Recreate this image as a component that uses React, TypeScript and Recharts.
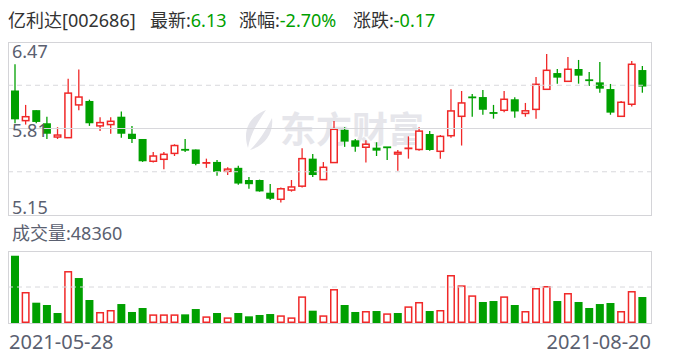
import React from "react"
import { Bar, ComposedChart, ReferenceLine, XAxis, YAxis } from "recharts"

// trading days shown in the window (first and last are labelled)
const dates = [
  "2021-05-28", "2021-05-31", "2021-06-01", "2021-06-02", "2021-06-03", "2021-06-04",
  "2021-06-07", "2021-06-08", "2021-06-09", "2021-06-10", "2021-06-11", "2021-06-15",
  "2021-06-16", "2021-06-17", "2021-06-18", "2021-06-21", "2021-06-22", "2021-06-23",
  "2021-06-24", "2021-06-25", "2021-06-28", "2021-06-29", "2021-06-30",
  "2021-07-01", "2021-07-02", "2021-07-05", "2021-07-06", "2021-07-07", "2021-07-08",
  "2021-07-09", "2021-07-12", "2021-07-13", "2021-07-14", "2021-07-15", "2021-07-16",
  "2021-07-19", "2021-07-20", "2021-07-21", "2021-07-22", "2021-07-23",
  "2021-07-26", "2021-07-27", "2021-07-28", "2021-07-29", "2021-07-30",
  "2021-08-02", "2021-08-03", "2021-08-04", "2021-08-05", "2021-08-06",
  "2021-08-09", "2021-08-10", "2021-08-11", "2021-08-12", "2021-08-13",
  "2021-08-16", "2021-08-17", "2021-08-18", "2021-08-19", "2021-08-20",
]

const opens = [
  6.10, 5.87, 5.95, 5.85, 5.745, 5.74, 5.99, 6.02, 5.83, 5.84,
  5.90, 5.77, 5.73, 5.56, 5.575, 5.62, 5.65, 5.65, 5.545, 5.555,
  5.483, 5.51, 5.417, 5.417, 5.32, 5.27, 5.34, 5.37, 5.58, 5.42,
  5.55, 5.80, 5.72, 5.667, 5.664, 5.668, 5.615, 5.657, 5.65, 5.768,
  5.636, 5.755, 5.903, 6.05, 6.05, 5.93, 5.949, 6.033, 5.925, 5.956,
  6.109, 6.233, 6.17, 6.264, 6.18, 6.162, 6.111, 5.903, 5.995, 6.256,
]
const closes = [
  5.88, 5.90, 5.86, 5.77, 5.76, 6.08, 6.05, 5.85, 5.855, 5.865,
  5.77, 5.73, 5.56, 5.60, 5.613, 5.68, 5.645, 5.54, 5.55, 5.48,
  5.50, 5.39, 5.385, 5.33, 5.274, 5.35, 5.364, 5.58, 5.455, 5.514,
  5.804, 5.71, 5.671, 5.69, 5.641, 5.665, 5.628, 5.66, 5.79, 5.646,
  5.75, 5.944, 6.005, 6.045, 5.953, 5.927, 6.033, 5.94, 5.945, 6.147,
  6.254, 6.198, 6.262, 6.213, 6.177, 6.114, 5.931, 6.01, 6.30, 6.13,
]
const highs = [
  6.30, 5.99, 5.95, 5.90, 5.82, 6.19, 6.26, 6.03, 5.895, 5.895,
  5.94, 5.83, 5.73, 5.63, 5.63, 5.69, 5.73, 5.65, 5.58, 5.57,
  5.515, 5.525, 5.44, 5.42, 5.386, 5.36, 5.417, 5.66, 5.615, 5.554,
  5.867, 5.82, 5.73, 5.72, 5.705, 5.668, 5.646, 5.75, 5.82, 5.79,
  5.76, 6.11, 6.096, 6.073, 6.104, 5.99, 6.096, 6.048, 6.005, 6.203,
  6.378, 6.264, 6.356, 6.333, 6.241, 6.317, 6.15, 6.02, 6.325, 6.287,
]
const lows = [
  5.85, 5.84, 5.85, 5.73, 5.73, 5.74, 5.95, 5.83, 5.79, 5.77,
  5.74, 5.70, 5.555, 5.55, 5.50, 5.60, 5.63, 5.53, 5.51, 5.45,
  5.455, 5.38, 5.35, 5.328, 5.265, 5.245, 5.328, 5.36, 5.44, 5.42,
  5.55, 5.67, 5.633, 5.55, 5.60, 5.57, 5.488, 5.58, 5.64, 5.64,
  5.58, 5.74, 5.68, 5.90, 5.915, 5.885, 5.934, 5.892, 5.90, 5.885,
  6.109, 6.152, 6.17, 6.152, 6.134, 6.083, 5.915, 5.903, 5.977, 6.083,
]
const volumes = [
  125200, 57700, 37800, 33500, 18600, 96700, 83700, 42800, 20500, 24200,
  35300, 20500, 27900, 16100, 16100, 16100, 16100, 26000, 12400, 18600,
  10500, 18600, 12400, 14900, 16700, 14300, 10500, 49600, 22900, 14300,
  63200, 33500, 20500, 22300, 22300, 18000, 18600, 31000, 39100, 22300,
  24200, 89300, 70100, 51500, 39100, 40900, 49600, 33500, 22300, 65100,
  68800, 40900, 55800, 39100, 27900, 35300, 37200, 22300, 59500, 48360,
]

const priceTicks = [5.15, 5.81, 6.47]
const priceGrid = [5.48, 5.81, 6.14]
const volumeMax = 134000

const RED = "#f02828"
const GREEN = "#00a000"
const GRAY = "#5a6070"
const FONT = '"Noto Sans", "Open Sans", "Noto Sans CJK SC", sans-serif'

const rows = dates.map((date, i) => ({
  date,
  open: opens[i],
  close: closes[i],
  high: highs[i],
  low: lows[i],
  range: [lows[i], highs[i]],
  volume: volumes[i],
  volUp: closes[i] >= (i > 0 ? closes[i - 1] : opens[i]),
}))

function Candle(props: any) {
  const { x, y, width, height, payload } = props
  const { open, close, high, low } = payload
  const top = Math.min(y, y + height)
  const bottom = Math.max(y, y + height)
  const k = high === low ? 0 : (bottom - top) / (high - low)
  const py = (v: number) => top + (high - v) * k
  const cx = x + width / 2
  const up = close > open
  const color = up ? RED : GREEN
  const bTop = py(Math.max(open, close))
  const bBot = py(Math.min(open, close))
  const bh = bBot - bTop
  let body
  if (bh < 1.6) {
    body = <rect x={x} y={(bTop + bBot) / 2 - 0.9} width={width} height={1.8} fill={color} />
  } else if (up) {
    body = <rect x={x + 0.75} y={bTop} width={width - 1.5} height={bh} fill="#fff" stroke={color} strokeWidth={1.5} />
  } else {
    body = <rect x={x} y={bTop} width={width} height={bh} fill={color} />
  }
  return (
    <g>
      <line x1={cx} x2={cx} y1={py(high)} y2={py(low)} stroke={color} strokeWidth={1.3} />
      {body}
    </g>
  )
}

function VolumeBar(props: any) {
  const { x, y, width, height, payload } = props
  if (payload.volUp) {
    return (
      <rect x={x + 0.75} y={y + 0.75} width={width - 1.5} height={Math.max(0, height - 1.5)}
        fill="#fff" stroke={RED} strokeWidth={1.5} />
    )
  }
  return <rect x={x} y={y} width={width} height={height} fill={GREEN} />
}

function PriceTick(props: any) {
  const { y, payload } = props
  const v = payload.value
  const dy = v === priceTicks[2] ? 9 : v === priceTicks[0] ? -8 : 1.5
  return (
    <text x={12} y={y + dy} dominantBaseline="central" textAnchor="start" fill={GRAY} fontSize={18} fontFamily={FONT}>
      {v.toFixed(2)}
    </text>
  )
}

function DateTick(props: any) {
  const { payload } = props
  const first = payload.value === dates[0]
  return (
    <text x={first ? 9 : 651} y={111} textAnchor={first ? "start" : "end"} dominantBaseline="central"
      fill={GRAY} fontSize={20} fontFamily={FONT}>
      {payload.value}
    </text>
  )
}

export default function App() {
  const n = closes.length
  const last = closes[n - 1]
  const change = last - closes[n - 2]
  const pct = (change / closes[n - 2]) * 100
  const frame = { position: "absolute" as const, left: 8, width: 644, border: "1px solid #d4d4d8", boxSizing: "border-box" as const }
  const priceMargin = { top: 42, right: 37, bottom: 15, left: 8 }

  return (
    <div style={{ position: "absolute", left: 0, top: 0, width: 688, height: 360, background: "#fff", fontFamily: FONT, overflow: "hidden" }}>
      <div style={{ position: "absolute", top: 11, left: 0, fontSize: 18, lineHeight: "18px", color: "#333", whiteSpace: "nowrap" }}>
        <span style={{ position: "absolute", left: 8 }}>亿利达[002686]</span>
        <span style={{ position: "absolute", left: 150 }}>最新:<span style={{ color: GREEN }}>{last.toFixed(2)}</span></span>
        <span style={{ position: "absolute", left: 239 }}>涨幅:<span style={{ color: GREEN }}>{pct.toFixed(2)}%</span></span>
        <span style={{ position: "absolute", left: 353 }}>涨跌:<span style={{ color: GREEN }}>{change.toFixed(2)}</span></span>
      </div>

      {/* watermark */}
      <svg style={{ position: "absolute", left: 236, top: 108 }} width={40} height={44}>
        <path d="M30 2 C14 8 6 22 12 40 C14 28 20 16 30 2 Z" fill="#e4e4ea" />
        <path d="M36 10 C30 22 24 32 14 42 C28 38 38 26 36 10 Z" fill="#e4e4ea" />
      </svg>
      <div style={{ position: "absolute", left: 280, top: 107, fontSize: 36, lineHeight: "40px", fontWeight: 700, color: "#e6e6eb", fontFamily: '"Noto Sans CJK SC", sans-serif' }}>
        东方财富
      </div>

      <div style={{ ...frame, top: 42, height: 174 }} />
      <div style={{ ...frame, top: 251, height: 73 }} />

      <div style={{ position: "absolute", left: 0, top: 0 }}>
        <ComposedChart width={688} height={230} data={rows} margin={priceMargin}>
          <XAxis dataKey="date" hide padding={{ left: 2, right: 3 }} />
          <YAxis domain={[priceTicks[0], priceTicks[2]]} hide />
          {priceGrid.map((g, i) => (
            <ReferenceLine key={g} y={g} stroke="#d8d8dc" strokeWidth={1}
              strokeDasharray={i === 1 ? undefined : "5 4"} />
          ))}
          <Bar dataKey="range" barSize={8} shape={<Candle />} isAnimationActive={false} />
        </ComposedChart>
      </div>

      {/* price labels sit on top of the candles */}
      <div style={{ position: "absolute", left: 0, top: 0 }}>
        <ComposedChart width={688} height={230} data={rows} margin={priceMargin}>
          <XAxis dataKey="date" hide padding={{ left: 2, right: 3 }} />
          <YAxis domain={[priceTicks[0], priceTicks[2]]} ticks={priceTicks} interval={0} width={60} mirror
            axisLine={false} tickLine={false} tick={<PriceTick />} />
          <Bar dataKey="range" barSize={8} shape={() => <g />} isAnimationActive={false} />
        </ComposedChart>
      </div>

      <div style={{ position: "absolute", left: 12, top: 224, fontSize: 18, lineHeight: "18px", color: GRAY }}>
        成交量:{volumes[n - 1]}
      </div>

      <div style={{ position: "absolute", left: 0, top: 230 }}>
        <ComposedChart width={688} height={130} data={rows} margin={{ top: 21, right: 37, bottom: 0, left: 8 }}>
          <XAxis dataKey="date" height={37} padding={{ left: 2, right: 3 }} ticks={[dates[0], dates[n - 1]]}
            interval={0} axisLine={false} tickLine={false} tick={<DateTick />} />
          <YAxis domain={[0, volumeMax]} hide />
          <ReferenceLine y={volumeMax / 2} stroke="#d8d8dc" strokeDasharray="5 4" />
          <Bar dataKey="volume" barSize={8} shape={<VolumeBar />} isAnimationActive={false} />
        </ComposedChart>
      </div>
    </div>
  )
}
